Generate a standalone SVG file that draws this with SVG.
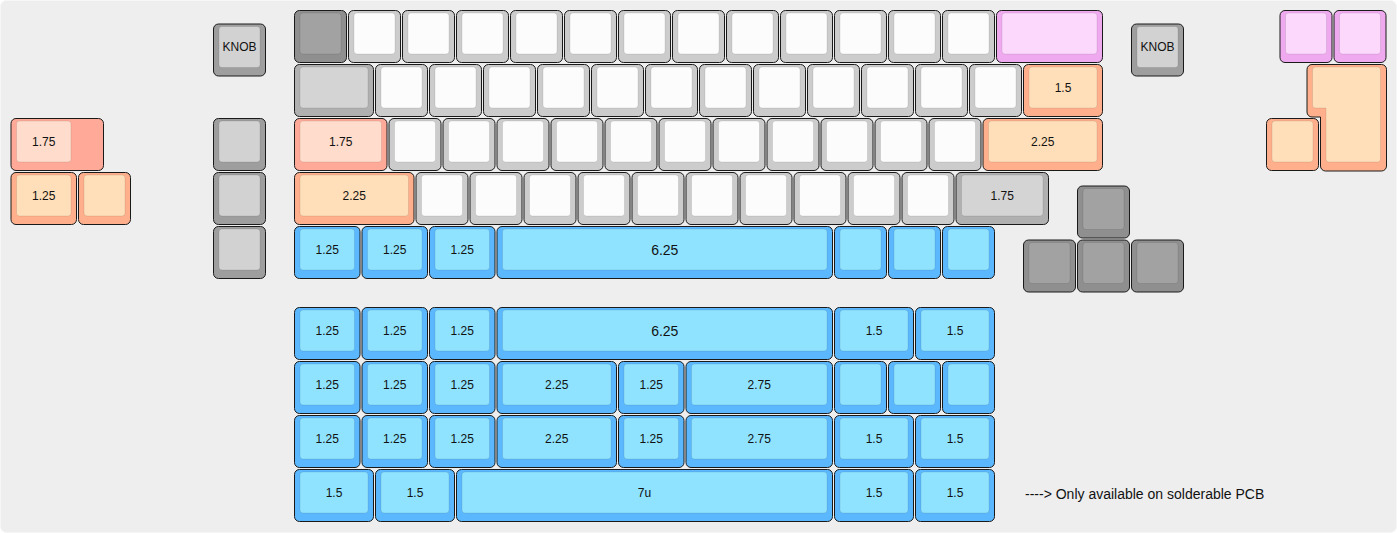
<svg xmlns="http://www.w3.org/2000/svg" width="1397" height="533" viewBox="0 0 1397 533">
<style>
.o{stroke:#1a1a1a;stroke-width:1}
.i{stroke:rgba(0,0,0,0.09);stroke-width:1}
rect.o{rx:5px;ry:5px}
rect.i{rx:3px;ry:3px}
.dg .o{fill:#8f8f8f}.dg .i{fill:#a2a2a2}
.mg .o{fill:#9e9e9e}.mg .i{fill:#d2d2d2}
.lg .o{fill:#b0b0b0}.lg .i{fill:#d4d4d4}
.wh .o{fill:#cccccc}.wh .i{fill:#fcfcfc}
.pk .o{fill:#efa9ef}.pk .i{fill:#fcd8fd}
.pe .o{fill:#ffaf8b}.pe .i{fill:#ffdfb9}
.sa .o{fill:#ffaa99}.sa .i{fill:#ffdccb}
.bl .o{fill:#5cb8fe}.bl .i{fill:#8fe3ff}
text{font-family:"Liberation Sans",Arial,Helvetica,sans-serif;font-size:12px;fill:#111;text-anchor:middle;dominant-baseline:central}
text.big{font-size:14px}
text.note{font-size:14px;text-anchor:start;dominant-baseline:alphabetic}
</style>
<rect x="0.5" y="0.5" width="1396" height="532" rx="6" fill="#eeeeee" stroke="#f6f6f6"/>

<g id="keys">
<!-- Row 0 -->
<g id="k-esc" class="dg" transform="translate(294,10)"><rect class="o" x=".5" y=".5" width="52" height="52"/><rect class="i" x="6" y="3" width="41" height="41"/></g>
<g id="k-r0-1" class="wh" transform="translate(348,10)"><rect class="o" x=".5" y=".5" width="52" height="52"/><rect class="i" x="6" y="3" width="41" height="41"/></g>
<g id="k-r0-2" class="wh" transform="translate(402,10)"><rect class="o" x=".5" y=".5" width="52" height="52"/><rect class="i" x="6" y="3" width="41" height="41"/></g>
<g id="k-r0-3" class="wh" transform="translate(456,10)"><rect class="o" x=".5" y=".5" width="52" height="52"/><rect class="i" x="6" y="3" width="41" height="41"/></g>
<g id="k-r0-4" class="wh" transform="translate(510,10)"><rect class="o" x=".5" y=".5" width="52" height="52"/><rect class="i" x="6" y="3" width="41" height="41"/></g>
<g id="k-r0-5" class="wh" transform="translate(564,10)"><rect class="o" x=".5" y=".5" width="52" height="52"/><rect class="i" x="6" y="3" width="41" height="41"/></g>
<g id="k-r0-6" class="wh" transform="translate(618,10)"><rect class="o" x=".5" y=".5" width="52" height="52"/><rect class="i" x="6" y="3" width="41" height="41"/></g>
<g id="k-r0-7" class="wh" transform="translate(672,10)"><rect class="o" x=".5" y=".5" width="52" height="52"/><rect class="i" x="6" y="3" width="41" height="41"/></g>
<g id="k-r0-8" class="wh" transform="translate(726,10)"><rect class="o" x=".5" y=".5" width="52" height="52"/><rect class="i" x="6" y="3" width="41" height="41"/></g>
<g id="k-r0-9" class="wh" transform="translate(780,10)"><rect class="o" x=".5" y=".5" width="52" height="52"/><rect class="i" x="6" y="3" width="41" height="41"/></g>
<g id="k-r0-10" class="wh" transform="translate(834,10)"><rect class="o" x=".5" y=".5" width="52" height="52"/><rect class="i" x="6" y="3" width="41" height="41"/></g>
<g id="k-r0-11" class="wh" transform="translate(888,10)"><rect class="o" x=".5" y=".5" width="52" height="52"/><rect class="i" x="6" y="3" width="41" height="41"/></g>
<g id="k-r0-12" class="wh" transform="translate(942,10)"><rect class="o" x=".5" y=".5" width="52" height="52"/><rect class="i" x="6" y="3" width="41" height="41"/></g>
<g id="k-bksp" class="pk" transform="translate(996,10)"><rect class="o" x=".5" y=".5" width="106" height="52"/><rect class="i" x="6" y="3" width="95" height="41"/></g>
<g id="k-knob-l" class="mg" transform="translate(213,23.5)"><rect class="o" x=".5" y=".5" width="52" height="52"/><rect class="i" x="6" y="3" width="41" height="41"/><text x="26.5" y="23.5">KNOB</text></g>
<g id="k-knob-r" class="mg" transform="translate(1131,23.5)"><rect class="o" x=".5" y=".5" width="52" height="52"/><rect class="i" x="6" y="3" width="41" height="41"/><text x="26.5" y="23.5">KNOB</text></g>
<g id="k-split-bs1" class="pk" transform="translate(1279.5,10)"><rect class="o" x=".5" y=".5" width="52" height="52"/><rect class="i" x="6" y="3" width="41" height="41"/></g>
<g id="k-split-bs2" class="pk" transform="translate(1333.5,10)"><rect class="o" x=".5" y=".5" width="52" height="52"/><rect class="i" x="6" y="3" width="41" height="41"/></g>

<!-- Row 1 -->
<g id="k-tab" class="lg" transform="translate(294,64)"><rect class="o" x=".5" y=".5" width="79" height="52"/><rect class="i" x="6" y="3" width="68" height="41"/></g>
<g id="k-r1-1" class="wh" transform="translate(375,64)"><rect class="o" x=".5" y=".5" width="52" height="52"/><rect class="i" x="6" y="3" width="41" height="41"/></g>
<g id="k-r1-2" class="wh" transform="translate(429,64)"><rect class="o" x=".5" y=".5" width="52" height="52"/><rect class="i" x="6" y="3" width="41" height="41"/></g>
<g id="k-r1-3" class="wh" transform="translate(483,64)"><rect class="o" x=".5" y=".5" width="52" height="52"/><rect class="i" x="6" y="3" width="41" height="41"/></g>
<g id="k-r1-4" class="wh" transform="translate(537,64)"><rect class="o" x=".5" y=".5" width="52" height="52"/><rect class="i" x="6" y="3" width="41" height="41"/></g>
<g id="k-r1-5" class="wh" transform="translate(591,64)"><rect class="o" x=".5" y=".5" width="52" height="52"/><rect class="i" x="6" y="3" width="41" height="41"/></g>
<g id="k-r1-6" class="wh" transform="translate(645,64)"><rect class="o" x=".5" y=".5" width="52" height="52"/><rect class="i" x="6" y="3" width="41" height="41"/></g>
<g id="k-r1-7" class="wh" transform="translate(699,64)"><rect class="o" x=".5" y=".5" width="52" height="52"/><rect class="i" x="6" y="3" width="41" height="41"/></g>
<g id="k-r1-8" class="wh" transform="translate(753,64)"><rect class="o" x=".5" y=".5" width="52" height="52"/><rect class="i" x="6" y="3" width="41" height="41"/></g>
<g id="k-r1-9" class="wh" transform="translate(807,64)"><rect class="o" x=".5" y=".5" width="52" height="52"/><rect class="i" x="6" y="3" width="41" height="41"/></g>
<g id="k-r1-10" class="wh" transform="translate(861,64)"><rect class="o" x=".5" y=".5" width="52" height="52"/><rect class="i" x="6" y="3" width="41" height="41"/></g>
<g id="k-r1-11" class="wh" transform="translate(915,64)"><rect class="o" x=".5" y=".5" width="52" height="52"/><rect class="i" x="6" y="3" width="41" height="41"/></g>
<g id="k-r1-12" class="wh" transform="translate(969,64)"><rect class="o" x=".5" y=".5" width="52" height="52"/><rect class="i" x="6" y="3" width="41" height="41"/></g>
<g id="k-bslash" class="pe" transform="translate(1023,64)"><rect class="o" x=".5" y=".5" width="79" height="52"/><rect class="i" x="6" y="3" width="68" height="41"/><text x="40" y="23.5">1.5</text></g>
<g id="k-iso-enter" class="pe" transform="translate(1306.5,64)"><path class="o" d="M5.5,0.5 H75 A5,5 0 0 1 80,5.5 V102 A5,5 0 0 1 75,107 H19 A5,5 0 0 1 14,102 V53 H5.5 A5,5 0 0 1 0.5,48 V5.5 A5,5 0 0 1 5.5,0.5 Z"/><path class="i" d="M9,3 H71 A3,3 0 0 1 74,6 V95 A3,3 0 0 1 71,98 H22.5 A3,3 0 0 1 19.5,95 V44 H9 A3,3 0 0 1 6,41 V6 A3,3 0 0 1 9,3 Z"/></g>

<!-- Row 2 -->
<g id="k-caps" class="sa" transform="translate(294,118)"><rect class="o" x=".5" y=".5" width="92.5" height="52"/><rect class="i" x="6" y="3" width="81.5" height="41"/><text x="46.75" y="23.5">1.75</text></g>
<g id="k-r2-1" class="wh" transform="translate(388.5,118)"><rect class="o" x=".5" y=".5" width="52" height="52"/><rect class="i" x="6" y="3" width="41" height="41"/></g>
<g id="k-r2-2" class="wh" transform="translate(442.5,118)"><rect class="o" x=".5" y=".5" width="52" height="52"/><rect class="i" x="6" y="3" width="41" height="41"/></g>
<g id="k-r2-3" class="wh" transform="translate(496.5,118)"><rect class="o" x=".5" y=".5" width="52" height="52"/><rect class="i" x="6" y="3" width="41" height="41"/></g>
<g id="k-r2-4" class="wh" transform="translate(550.5,118)"><rect class="o" x=".5" y=".5" width="52" height="52"/><rect class="i" x="6" y="3" width="41" height="41"/></g>
<g id="k-r2-5" class="wh" transform="translate(604.5,118)"><rect class="o" x=".5" y=".5" width="52" height="52"/><rect class="i" x="6" y="3" width="41" height="41"/></g>
<g id="k-r2-6" class="wh" transform="translate(658.5,118)"><rect class="o" x=".5" y=".5" width="52" height="52"/><rect class="i" x="6" y="3" width="41" height="41"/></g>
<g id="k-r2-7" class="wh" transform="translate(712.5,118)"><rect class="o" x=".5" y=".5" width="52" height="52"/><rect class="i" x="6" y="3" width="41" height="41"/></g>
<g id="k-r2-8" class="wh" transform="translate(766.5,118)"><rect class="o" x=".5" y=".5" width="52" height="52"/><rect class="i" x="6" y="3" width="41" height="41"/></g>
<g id="k-r2-9" class="wh" transform="translate(820.5,118)"><rect class="o" x=".5" y=".5" width="52" height="52"/><rect class="i" x="6" y="3" width="41" height="41"/></g>
<g id="k-r2-10" class="wh" transform="translate(874.5,118)"><rect class="o" x=".5" y=".5" width="52" height="52"/><rect class="i" x="6" y="3" width="41" height="41"/></g>
<g id="k-r2-11" class="wh" transform="translate(928.5,118)"><rect class="o" x=".5" y=".5" width="52" height="52"/><rect class="i" x="6" y="3" width="41" height="41"/></g>
<g id="k-enter" class="pe" transform="translate(982.5,118)"><rect class="o" x=".5" y=".5" width="119.5" height="52"/><rect class="i" x="6" y="3" width="108.5" height="41"/><text x="60.25" y="23.5">2.25</text></g>
<g id="k-macro-1" class="mg" transform="translate(213,118)"><rect class="o" x=".5" y=".5" width="52" height="52"/><rect class="i" x="6" y="3" width="41" height="41"/></g>
<g id="k-stepped-caps" class="sa" transform="translate(10.5,118)"><rect class="o" x=".5" y=".5" width="92.5" height="52"/><rect class="i" x="6" y="3" width="54.5" height="41"/><text x="33.25" y="23.5">1.75</text></g>
<g id="k-iso-hash" class="pe" transform="translate(1266,118)"><rect class="o" x=".5" y=".5" width="52" height="52"/><rect class="i" x="6" y="3" width="41" height="41"/></g>

<!-- Row 3 -->
<g id="k-lshift" class="pe" transform="translate(294,172)"><rect class="o" x=".5" y=".5" width="119.5" height="52"/><rect class="i" x="6" y="3" width="108.5" height="41"/><text x="60.25" y="23.5">2.25</text></g>
<g id="k-r3-1" class="wh" transform="translate(415.5,172)"><rect class="o" x=".5" y=".5" width="52" height="52"/><rect class="i" x="6" y="3" width="41" height="41"/></g>
<g id="k-r3-2" class="wh" transform="translate(469.5,172)"><rect class="o" x=".5" y=".5" width="52" height="52"/><rect class="i" x="6" y="3" width="41" height="41"/></g>
<g id="k-r3-3" class="wh" transform="translate(523.5,172)"><rect class="o" x=".5" y=".5" width="52" height="52"/><rect class="i" x="6" y="3" width="41" height="41"/></g>
<g id="k-r3-4" class="wh" transform="translate(577.5,172)"><rect class="o" x=".5" y=".5" width="52" height="52"/><rect class="i" x="6" y="3" width="41" height="41"/></g>
<g id="k-r3-5" class="wh" transform="translate(631.5,172)"><rect class="o" x=".5" y=".5" width="52" height="52"/><rect class="i" x="6" y="3" width="41" height="41"/></g>
<g id="k-r3-6" class="wh" transform="translate(685.5,172)"><rect class="o" x=".5" y=".5" width="52" height="52"/><rect class="i" x="6" y="3" width="41" height="41"/></g>
<g id="k-r3-7" class="wh" transform="translate(739.5,172)"><rect class="o" x=".5" y=".5" width="52" height="52"/><rect class="i" x="6" y="3" width="41" height="41"/></g>
<g id="k-r3-8" class="wh" transform="translate(793.5,172)"><rect class="o" x=".5" y=".5" width="52" height="52"/><rect class="i" x="6" y="3" width="41" height="41"/></g>
<g id="k-r3-9" class="wh" transform="translate(847.5,172)"><rect class="o" x=".5" y=".5" width="52" height="52"/><rect class="i" x="6" y="3" width="41" height="41"/></g>
<g id="k-r3-10" class="wh" transform="translate(901.5,172)"><rect class="o" x=".5" y=".5" width="52" height="52"/><rect class="i" x="6" y="3" width="41" height="41"/></g>
<g id="k-rshift" class="lg" transform="translate(955.5,172)"><rect class="o" x=".5" y=".5" width="92.5" height="52"/><rect class="i" x="6" y="3" width="81.5" height="41"/><text x="46.75" y="23.5">1.75</text></g>
<g id="k-macro-2" class="mg" transform="translate(213,172)"><rect class="o" x=".5" y=".5" width="52" height="52"/><rect class="i" x="6" y="3" width="41" height="41"/></g>
<g id="k-iso-lshift" class="pe" transform="translate(10.5,172)"><rect class="o" x=".5" y=".5" width="65.5" height="52"/><rect class="i" x="6" y="3" width="54.5" height="41"/><text x="33.25" y="23.5">1.25</text></g>
<g id="k-iso-extra" class="pe" transform="translate(78,172)"><rect class="o" x=".5" y=".5" width="52" height="52"/><rect class="i" x="6" y="3" width="41" height="41"/></g>
<g id="k-up" class="dg" transform="translate(1077,185.5)"><rect class="o" x=".5" y=".5" width="52" height="52"/><rect class="i" x="6" y="3" width="41" height="41"/></g>

<!-- Row 4 -->
<g id="k-r4-ctrl" class="bl" transform="translate(294,226)"><rect class="o" x=".5" y=".5" width="65.5" height="52"/><rect class="i" x="6" y="3" width="54.5" height="41"/><text x="33.25" y="23.5">1.25</text></g>
<g id="k-r4-win" class="bl" transform="translate(361.5,226)"><rect class="o" x=".5" y=".5" width="65.5" height="52"/><rect class="i" x="6" y="3" width="54.5" height="41"/><text x="33.25" y="23.5">1.25</text></g>
<g id="k-r4-alt" class="bl" transform="translate(429,226)"><rect class="o" x=".5" y=".5" width="65.5" height="52"/><rect class="i" x="6" y="3" width="54.5" height="41"/><text x="33.25" y="23.5">1.25</text></g>
<g id="k-r4-space" class="bl" transform="translate(496.5,226)"><rect class="o" x=".5" y=".5" width="335.5" height="52"/><rect class="i" x="6" y="3" width="324.5" height="41"/><text class="big" x="168.25" y="23.5">6.25</text></g>
<g id="k-r4-m1" class="bl" transform="translate(834,226)"><rect class="o" x=".5" y=".5" width="52" height="52"/><rect class="i" x="6" y="3" width="41" height="41"/></g>
<g id="k-r4-m2" class="bl" transform="translate(888,226)"><rect class="o" x=".5" y=".5" width="52" height="52"/><rect class="i" x="6" y="3" width="41" height="41"/></g>
<g id="k-r4-m3" class="bl" transform="translate(942,226)"><rect class="o" x=".5" y=".5" width="52" height="52"/><rect class="i" x="6" y="3" width="41" height="41"/></g>
<g id="k-macro-3" class="mg" transform="translate(213,226)"><rect class="o" x=".5" y=".5" width="52" height="52"/><rect class="i" x="6" y="3" width="41" height="41"/></g>
<g id="k-left" class="dg" transform="translate(1023,239.5)"><rect class="o" x=".5" y=".5" width="52" height="52"/><rect class="i" x="6" y="3" width="41" height="41"/></g>
<g id="k-down" class="dg" transform="translate(1077,239.5)"><rect class="o" x=".5" y=".5" width="52" height="52"/><rect class="i" x="6" y="3" width="41" height="41"/></g>
<g id="k-right" class="dg" transform="translate(1131,239.5)"><rect class="o" x=".5" y=".5" width="52" height="52"/><rect class="i" x="6" y="3" width="41" height="41"/></g>

<!-- Alt bottom row A -->
<g id="k-a-1" class="bl" transform="translate(294,307)"><rect class="o" x=".5" y=".5" width="65.5" height="52"/><rect class="i" x="6" y="3" width="54.5" height="41"/><text x="33.25" y="23.5">1.25</text></g>
<g id="k-a-2" class="bl" transform="translate(361.5,307)"><rect class="o" x=".5" y=".5" width="65.5" height="52"/><rect class="i" x="6" y="3" width="54.5" height="41"/><text x="33.25" y="23.5">1.25</text></g>
<g id="k-a-3" class="bl" transform="translate(429,307)"><rect class="o" x=".5" y=".5" width="65.5" height="52"/><rect class="i" x="6" y="3" width="54.5" height="41"/><text x="33.25" y="23.5">1.25</text></g>
<g id="k-a-space" class="bl" transform="translate(496.5,307)"><rect class="o" x=".5" y=".5" width="335.5" height="52"/><rect class="i" x="6" y="3" width="324.5" height="41"/><text class="big" x="168.25" y="23.5">6.25</text></g>
<g id="k-a-5" class="bl" transform="translate(834,307)"><rect class="o" x=".5" y=".5" width="79" height="52"/><rect class="i" x="6" y="3" width="68" height="41"/><text x="40" y="23.5">1.5</text></g>
<g id="k-a-6" class="bl" transform="translate(915,307)"><rect class="o" x=".5" y=".5" width="79" height="52"/><rect class="i" x="6" y="3" width="68" height="41"/><text x="40" y="23.5">1.5</text></g>

<!-- Alt bottom row B -->
<g id="k-b-1" class="bl" transform="translate(294,361)"><rect class="o" x=".5" y=".5" width="65.5" height="52"/><rect class="i" x="6" y="3" width="54.5" height="41"/><text x="33.25" y="23.5">1.25</text></g>
<g id="k-b-2" class="bl" transform="translate(361.5,361)"><rect class="o" x=".5" y=".5" width="65.5" height="52"/><rect class="i" x="6" y="3" width="54.5" height="41"/><text x="33.25" y="23.5">1.25</text></g>
<g id="k-b-3" class="bl" transform="translate(429,361)"><rect class="o" x=".5" y=".5" width="65.5" height="52"/><rect class="i" x="6" y="3" width="54.5" height="41"/><text x="33.25" y="23.5">1.25</text></g>
<g id="k-b-4" class="bl" transform="translate(496.5,361)"><rect class="o" x=".5" y=".5" width="119.5" height="52"/><rect class="i" x="6" y="3" width="108.5" height="41"/><text x="60.25" y="23.5">2.25</text></g>
<g id="k-b-5" class="bl" transform="translate(618,361)"><rect class="o" x=".5" y=".5" width="65.5" height="52"/><rect class="i" x="6" y="3" width="54.5" height="41"/><text x="33.25" y="23.5">1.25</text></g>
<g id="k-b-6" class="bl" transform="translate(685.5,361)"><rect class="o" x=".5" y=".5" width="146.5" height="52"/><rect class="i" x="6" y="3" width="135.5" height="41"/><text x="73.75" y="23.5">2.75</text></g>
<g id="k-b-7" class="bl" transform="translate(834,361)"><rect class="o" x=".5" y=".5" width="52" height="52"/><rect class="i" x="6" y="3" width="41" height="41"/></g>
<g id="k-b-8" class="bl" transform="translate(888,361)"><rect class="o" x=".5" y=".5" width="52" height="52"/><rect class="i" x="6" y="3" width="41" height="41"/></g>
<g id="k-b-9" class="bl" transform="translate(942,361)"><rect class="o" x=".5" y=".5" width="52" height="52"/><rect class="i" x="6" y="3" width="41" height="41"/></g>

<!-- Alt bottom row C -->
<g id="k-c-1" class="bl" transform="translate(294,415)"><rect class="o" x=".5" y=".5" width="65.5" height="52"/><rect class="i" x="6" y="3" width="54.5" height="41"/><text x="33.25" y="23.5">1.25</text></g>
<g id="k-c-2" class="bl" transform="translate(361.5,415)"><rect class="o" x=".5" y=".5" width="65.5" height="52"/><rect class="i" x="6" y="3" width="54.5" height="41"/><text x="33.25" y="23.5">1.25</text></g>
<g id="k-c-3" class="bl" transform="translate(429,415)"><rect class="o" x=".5" y=".5" width="65.5" height="52"/><rect class="i" x="6" y="3" width="54.5" height="41"/><text x="33.25" y="23.5">1.25</text></g>
<g id="k-c-4" class="bl" transform="translate(496.5,415)"><rect class="o" x=".5" y=".5" width="119.5" height="52"/><rect class="i" x="6" y="3" width="108.5" height="41"/><text x="60.25" y="23.5">2.25</text></g>
<g id="k-c-5" class="bl" transform="translate(618,415)"><rect class="o" x=".5" y=".5" width="65.5" height="52"/><rect class="i" x="6" y="3" width="54.5" height="41"/><text x="33.25" y="23.5">1.25</text></g>
<g id="k-c-6" class="bl" transform="translate(685.5,415)"><rect class="o" x=".5" y=".5" width="146.5" height="52"/><rect class="i" x="6" y="3" width="135.5" height="41"/><text x="73.75" y="23.5">2.75</text></g>
<g id="k-c-7" class="bl" transform="translate(834,415)"><rect class="o" x=".5" y=".5" width="79" height="52"/><rect class="i" x="6" y="3" width="68" height="41"/><text x="40" y="23.5">1.5</text></g>
<g id="k-c-8" class="bl" transform="translate(915,415)"><rect class="o" x=".5" y=".5" width="79" height="52"/><rect class="i" x="6" y="3" width="68" height="41"/><text x="40" y="23.5">1.5</text></g>

<!-- Alt bottom row D -->
<g id="k-d-1" class="bl" transform="translate(294,469)"><rect class="o" x=".5" y=".5" width="79" height="52"/><rect class="i" x="6" y="3" width="68" height="41"/><text x="40" y="23.5">1.5</text></g>
<g id="k-d-2" class="bl" transform="translate(375,469)"><rect class="o" x=".5" y=".5" width="79" height="52"/><rect class="i" x="6" y="3" width="68" height="41"/><text x="40" y="23.5">1.5</text></g>
<g id="k-d-space" class="bl" transform="translate(456,469)"><rect class="o" x=".5" y=".5" width="376" height="52"/><rect class="i" x="6" y="3" width="365" height="41"/><text x="188.5" y="23.5">7u</text></g>
<g id="k-d-4" class="bl" transform="translate(834,469)"><rect class="o" x=".5" y=".5" width="79" height="52"/><rect class="i" x="6" y="3" width="68" height="41"/><text x="40" y="23.5">1.5</text></g>
<g id="k-d-5" class="bl" transform="translate(915,469)"><rect class="o" x=".5" y=".5" width="79" height="52"/><rect class="i" x="6" y="3" width="68" height="41"/><text x="40" y="23.5">1.5</text></g>
</g>

<g id="connectors"></g>

<g id="note"><text class="note" x="1025" y="499">----&gt; Only available on solderable PCB</text></g>
</svg>
